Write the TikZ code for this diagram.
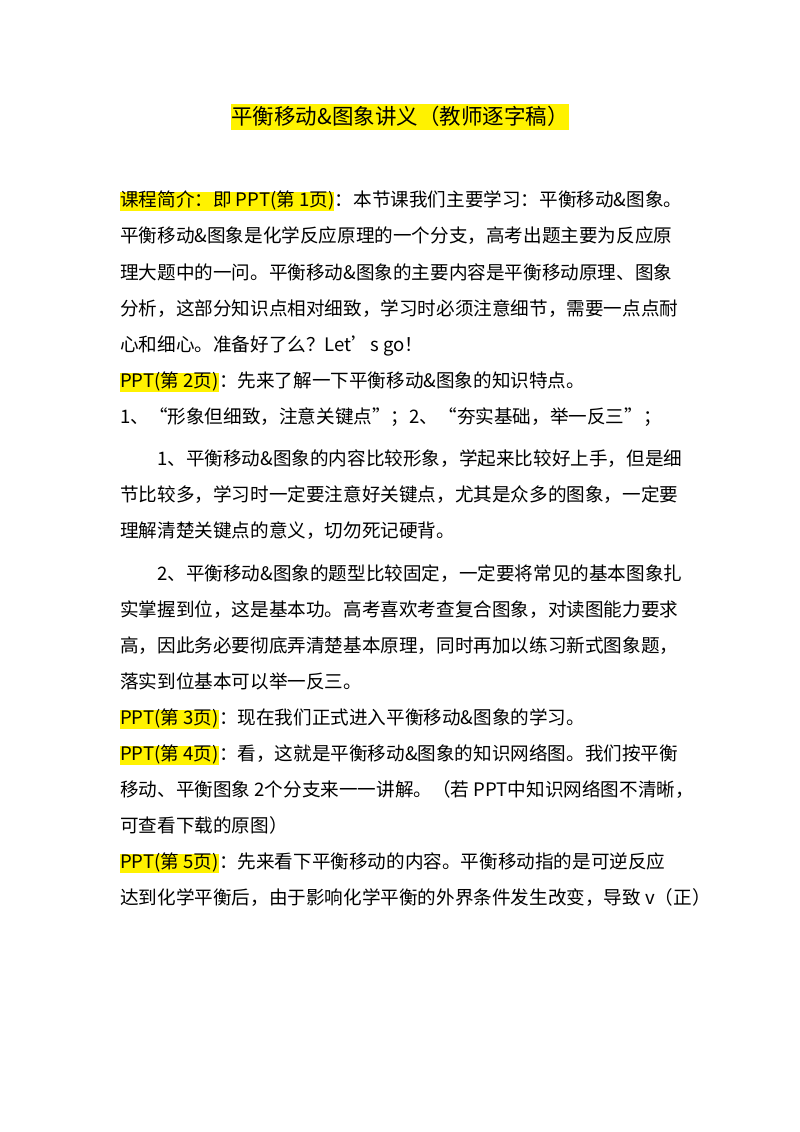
\documentclass[tikz,border=0pt]{standalone}
\usepackage{fontspec}
\setmainfont{Noto Sans CJK SC}
\begin{document}
\begin{tikzpicture}[x=1pt,y=-1pt,
  txt/.style={anchor=west,inner sep=0pt,font=\fontsize{18.6}{20}\selectfont,text height=15pt,text depth=4pt},
  hl/.style={txt,fill=yellow},
  ttl/.style={inner sep=0pt,fill=yellow,font=\fontsize{21.5}{24}\selectfont,text height=20pt,text depth=6pt}]
\useasboundingbox[fill=white] (0,0) rectangle (800,1132);
\node[ttl] (title) at (400,117) {平衡移动\&图象讲义（教师逐字稿）};
\node[hl] (h1) at (120,201) {课程简介：即 PPT(第 1页)};
\node[txt] (l1) at (h1.east) {：本节课我们主要学习：平衡移动\&图象。};
\node[txt] (l2) at (120,237) {平衡移动\&图象是化学反应原理的一个分支，高考出题主要为反应原};
\node[txt] (l3) at (120,274) {理大题中的一问。平衡移动\&图象的主要内容是平衡移动原理、图象};
\node[txt] (l4) at (120,310) {分析，这部分知识点相对细致，学习时必须注意细节，需要一点点耐};
\node[txt] (l5) at (120,346) {心和细心。准备好了么？Let’s go！};
\node[hl] (h2) at (120,382) {PPT(第 2页)};
\node[txt] (l6) at (h2.east) {：先来了解一下平衡移动\&图象的知识特点。};
\node[txt] (l7) at (120,418) {1、“形象但细致，注意关键点”；2、“夯实基础，举一反三”；};
\node[txt] (l8) at (157,460) {1、平衡移动\&图象的内容比较形象，学起来比较好上手，但是细};
\node[txt] (l9) at (120,496) {节比较多，学习时一定要注意好关键点，尤其是众多的图象，一定要};
\node[txt] (l10) at (120,532) {理解清楚关键点的意义，切勿死记硬背。};
\node[txt] (l11) at (157,575) {2、平衡移动\&图象的题型比较固定，一定要将常见的基本图象扎};
\node[txt] (l12) at (120,611) {实掌握到位，这是基本功。高考喜欢考查复合图象，对读图能力要求};
\node[txt] (l13) at (120,647) {高，因此务必要彻底弄清楚基本原理，同时再加以练习新式图象题，};
\node[txt] (l14) at (120,683) {落实到位基本可以举一反三。};
\node[hl] (h3) at (120,719) {PPT(第 3页)};
\node[txt] (l15) at (h3.east) {：现在我们正式进入平衡移动\&图象的学习。};
\node[hl] (h4) at (120,755) {PPT(第 4页)};
\node[txt] (l16) at (h4.east) {：看，这就是平衡移动\&图象的知识网络图。我们按平衡};
\node[txt] (l17) at (120,791) {移动、平衡图象 2个分支来一一讲解。（若 PPT中知识网络图不清晰，};
\node[txt] (l18) at (120,827) {可查看下载的原图）};
\node[hl] (h5) at (120,863) {PPT(第 5页)};
\node[txt] (l19) at (h5.east) {：先来看下平衡移动的内容。平衡移动指的是可逆反应};
\node[txt] (l20) at (120,899) {达到化学平衡后，由于影响化学平衡的外界条件发生改变，导致 v（正）};
\end{tikzpicture}
\end{document}
